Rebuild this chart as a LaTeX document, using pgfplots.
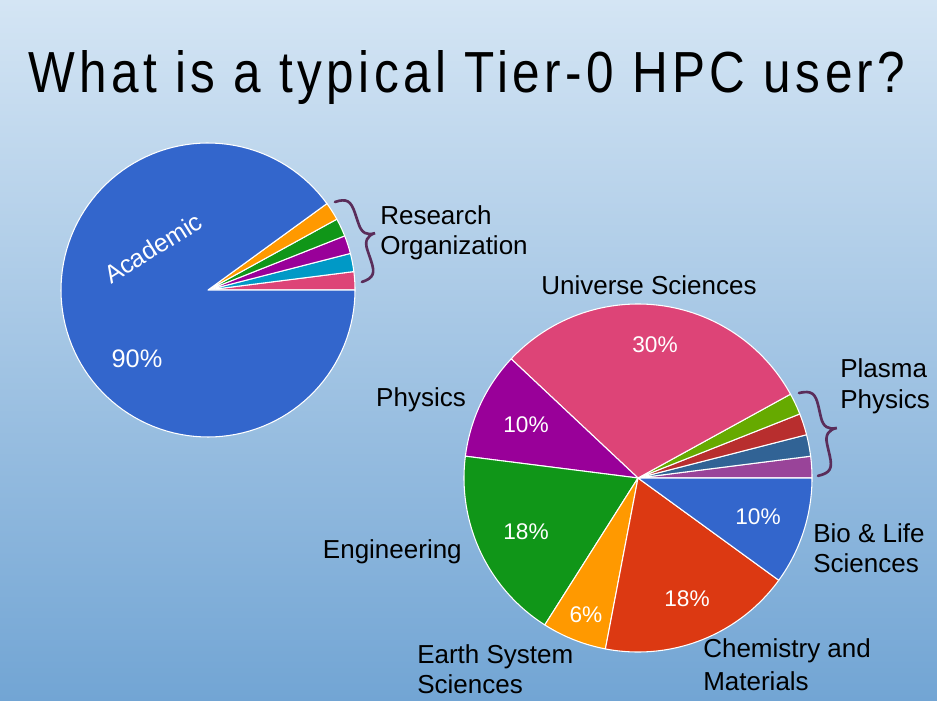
\documentclass[border=0pt]{standalone}
\usepackage{pgfplots}
\pgfplotsset{compat=1.18}
\usepackage{graphicx}
\usepackage{fontspec}
\setmainfont{Liberation Sans}
\newfontfamily\titlefont[LetterSpace=9]{Liberation Sans}

\definecolor{bgtop}{HTML}{D4E5F4}
\definecolor{bgbot}{HTML}{72A5D4}
\definecolor{gblue}{HTML}{3366CC}
\definecolor{gred}{HTML}{DC3912}
\definecolor{gorange}{HTML}{FF9900}
\definecolor{ggreen}{HTML}{109618}
\definecolor{gpurple}{HTML}{990099}
\definecolor{gcyan}{HTML}{0099C6}
\definecolor{gpink}{HTML}{DD4477}
\definecolor{glime}{HTML}{66AA00}
\definecolor{gdred}{HTML}{B82E2E}
\definecolor{gsteel}{HTML}{316395}
\definecolor{gmauve}{HTML}{994499}
\definecolor{bracecol}{HTML}{5A2D5A}

% pie helpers: values in percent, drawn counterclockwise from 0 degrees
\newcommand\pie[3]{\gdef\cx{#1}\gdef\cy{#2}\gdef\rr{#3}\gdef\cum{0}}
\newcommand\slice[2]{%
  \pgfmathsetmacro\sa{\cum*3.6}%
  \pgfmathsetmacro\sb{(\cum+#1)*3.6}%
  \pgfmathsetmacro\newcum{\cum+#1}%
  \xdef\cum{\newcum}%
  \edef\doslice{\noexpand\addplot[fill=#2, draw=white, line width=0.8pt,
    line join=round, no markers, domain=\sa:\sb, samples=120]
    ({\cx+\rr*cos(x)}, {\cy+\rr*sin(x)}) -- (axis cs:\cx,\cy) -- cycle;}%
  \doslice}

% curly brace in pixel scope: start x, start y, length, amplitude, rotation
\newcommand\cbrace[5]{%
  \begin{scope}[shift={(#1,#2)}, rotate=#5]
    \draw[bracecol, line width=2pt, line cap=round]
      (0,0) .. controls ({0.45*#4},0) and ({0.55*#4},{0.05*#3}) .. ({0.55*#4},{0.2*#3})
      -- ({0.55*#4},{0.34*#3})
      .. controls ({0.55*#4},{0.45*#3}) and ({0.7*#4},{0.5*#3}) .. (#4,{0.5*#3})
      .. controls ({0.7*#4},{0.5*#3}) and ({0.55*#4},{0.55*#3}) .. ({0.55*#4},{0.66*#3})
      -- ({0.55*#4},{0.8*#3})
      .. controls ({0.55*#4},{0.95*#3}) and ({0.45*#4},{#3}) .. (0,{#3});
  \end{scope}}

\begin{document}
\begin{tikzpicture}
\shade[top color=bgtop, bottom color=bgbot] (0pt,0pt) rectangle (702.75pt,525pt);

\begin{axis}[at={(0pt,0pt)}, anchor=south west, scale only axis,
  width=702.75pt, height=525pt, xmin=0, xmax=937, ymin=0, ymax=700,
  hide axis, clip=false]
  % Academic vs research organisations
  \pie{208}{410}{147}
  \slice{2}{gpink}
  \slice{2}{gcyan}
  \slice{2}{gpurple}
  \slice{2}{ggreen}
  \slice{2}{gorange}
  \slice{90}{gblue}
  % scientific fields
  \pie{638}{222}{174}
  \slice{2}{gmauve}
  \slice{2}{gsteel}
  \slice{2}{gdred}
  \slice{2}{glime}
  \slice{30}{gpink}
  \slice{10}{gpurple}
  \slice{18}{ggreen}
  \slice{6}{gorange}
  \slice{18}{gred}
  \slice{10}{gblue}
\end{axis}

% text and braces, in pixel coordinates (y down)
\begin{scope}[x=0.75pt, y=-0.75pt, shift={(0pt,525pt)}]
  \node[anchor=base west, inner sep=0] at (28,93)
    {\resizebox{657.75pt}{31.5pt}{\titlefont What is a typical Tier-0 HPC user?}};

  \cbrace{335}{202}{84.4}{28}{18.6}
  \cbrace{799}{393}{85}{29}{12.9}

  \begin{scope}[every node/.style={inner sep=0, font=\fontsize{19.5}{23}\selectfont}]
    \node[anchor=base west] at (380,225) {Research};
    \node[anchor=base west] at (380,255) {Organization};
    \node[anchor=base] at (649,295) {Universe Sciences};
    \node[anchor=base west] at (840,377) {Plasma};
    \node[anchor=base west] at (840,408) {Physics};
    \node[anchor=base] at (421,406) {Physics};
    \node[anchor=base east] at (462,558) {Engineering};
    \node[anchor=base west] at (813,542) {Bio \& Life};
    \node[anchor=base west] at (813,572) {Sciences};
    \node[anchor=base west] at (417,663) {Earth System};
    \node[anchor=base west] at (417,693) {Sciences};
    \node[anchor=base west] at (703,657) {Chemistry and};
    \node[anchor=base west] at (703,690) {Materials};
  \end{scope}

  \begin{scope}[every node/.style={inner sep=0, text=white, font=\fontsize{17}{20}\selectfont}]
    \node[rotate=32, font=\fontsize{18.8}{22}\selectfont] at (153,248) {Academic};
    \node[font=\fontsize{19}{22}\selectfont] at (137,359) {90\%};
    \node at (655,345) {30\%};
    \node at (526,425) {10\%};
    \node at (526,532) {18\%};
    \node at (586,615) {6\%};
    \node at (687,599) {18\%};
    \node at (758,517) {10\%};
  \end{scope}
\end{scope}

\pgfresetboundingbox
\path (0pt,0pt) rectangle (702.75pt,525pt);
\end{tikzpicture}
\end{document}
